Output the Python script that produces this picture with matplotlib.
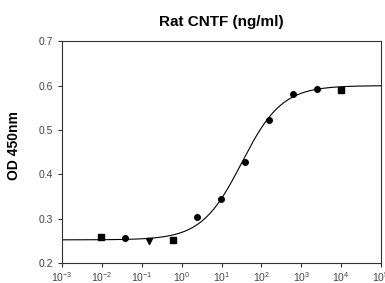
import numpy as np
import matplotlib
matplotlib.use("Agg")
import matplotlib.pyplot as plt
from matplotlib.ticker import FixedLocator, FuncFormatter, NullLocator

plt.rcParams['font.family'] = ['Liberation Sans', 'DejaVu Sans']
plt.rcParams['mathtext.fontset'] = 'custom'
plt.rcParams['mathtext.rm'] = 'Liberation Sans'
plt.rcParams['mathtext.it'] = 'Liberation Sans'

# data
conc = [0.0095, 0.038, 0.153, 0.61, 2.44, 9.77, 39.06, 156.25, 625, 2500, 10000]
od = [0.259, 0.256, 0.250, 0.251, 0.303, 0.344, 0.428, 0.523, 0.580, 0.593, 0.590]
markers = ['s', 'o', 'v', 's', 'o', 'o', 'o', 'o', 'o', 'o', 's']
# 4PL fit parameters
fit_bottom, fit_top, fit_ec50, fit_hill = 0.252, 0.600, 32.0, 0.86
x_ticks = [1e-3, 1e-2, 1e-1, 1e0, 1e1, 1e2, 1e3, 1e4, 1e5]
y_ticks = [0.2, 0.3, 0.4, 0.5, 0.6, 0.7]

fig = plt.figure(figsize=(3.85, 2.83), dpi=100)
ax = fig.add_axes([0.161, 0.071, 0.829, 0.783])

xs = np.logspace(-3, 5, 400)
ys = fit_bottom + (fit_top - fit_bottom) / (1 + (fit_ec50 / xs) ** fit_hill)
ax.plot(xs, ys, color='black', lw=0.8)
for c, v, m in zip(conc, od, markers):
    ax.plot(c, v, marker=m, color='black', ms=4, ls='none')

ax.set_xscale('log')
ax.set_xlim(1e-3, 1e5)
ax.set_ylim(0.2, 0.7)
ax.xaxis.set_major_locator(FixedLocator(x_ticks))
ax.xaxis.set_minor_locator(NullLocator())
ax.xaxis.set_major_formatter(FuncFormatter(lambda v, p: r'$10^{%d}$' % round(np.log10(v))))
ax.set_yticks(y_ticks)
ax.yaxis.set_major_formatter(FuncFormatter(lambda v, p: '%.1f' % v))
ax.tick_params(axis='both', direction='out', length=3, width=0.8, labelsize=7.5, colors='#333333', labelcolor='#444444')
ax.tick_params(axis='x', pad=2)
for s in ax.spines.values():
    s.set_linewidth(0.8)
    s.set_color('#333333')

ax.set_ylabel('OD 450nm', fontsize=10, fontweight='bold')
ax.yaxis.set_label_coords(-0.128, 0.53)
ax.set_title('Rat CNTF (ng/ml)', fontsize=11, fontweight='bold', pad=11)

fig.savefig('out.png', dpi=100)
